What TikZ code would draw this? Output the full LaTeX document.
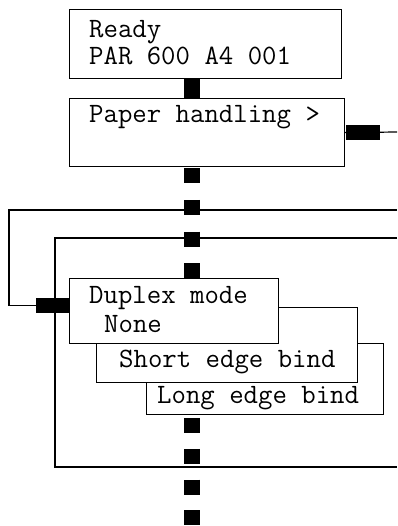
\documentclass[tikz,border=0pt]{standalone}
\tikzset{
    menubox/.style={draw, line width=1.2pt, fill=white, anchor=north west, inner sep=0pt},
    menutext/.style={anchor=base west, inner sep=0pt, align=left, font=\fontsize{28}{27.5}\selectfont\ttfamily},
    link/.style={line width=1.2pt},
    tab/.style={line width=15pt},
    stemline/.style={line width=16pt}
}
\begin{document}
\begin{tikzpicture}[x=1pt, y=-1pt]
        \useasboundingbox (0,0) rectangle (397,526);
        \coordinate (stem) at (192,0);
        \coordinate (out) at (397,132);
        \coordinate (in1) at (397,210);
        \coordinate (in2) at (397,238);
        \coordinate (out2) at (397,467);
        \coordinate (end) at (192,526);
        \foreach \n/\x/\y/\w/\h in {ready/69/9/272/69, paper/69/98/275/68, long/146/343/237/71, short/96/307/261/75, duplex/69/278/209/65}
            {
                \node[menubox, minimum width=\w pt, minimum height=\h pt] (\n) at (\x,\y) {};
            }
        \node[menutext] (readytxt) at (89,65) {Ready\\PAR 600 A4 001};
        \node[menutext] (papertxt) at (89,123) {Paper handling >};
        \node[menutext] (duplexA) at (89,303) {Duplex mode};
        \node[menutext] (duplexB) at (104,332) {None};
        \node[menutext] (shorttxt) at (119,367) {Short edge bind};
        \node[menutext] (longtxt) at (157,403) {Long edge bind};
        \draw[link] (paper.east) -- (out);
        \draw[tab] ([xshift=1pt]paper.east) -- ++(34,0);
        \draw[link] (in1) -- (9,210) |- ([yshift=6pt]duplex.west);
        \draw[tab] ([yshift=6pt]duplex.west) -- ++(-33,0);
        \draw[link] (in2) -- (55,238) |- (out2);
        \draw[stemline] (ready.south -| stem) -- (paper.north -| stem);
        \draw[stemline, dash pattern=on 15pt off 16.67pt, dash phase=30.67pt] (paper.south -| stem) -- (duplex.north -| stem);
        \draw[stemline, dash pattern=on 15pt off 15.7pt, dash phase=27.7pt] (long.south -| stem) -- (end);
    \end{tikzpicture}
\end{document}
